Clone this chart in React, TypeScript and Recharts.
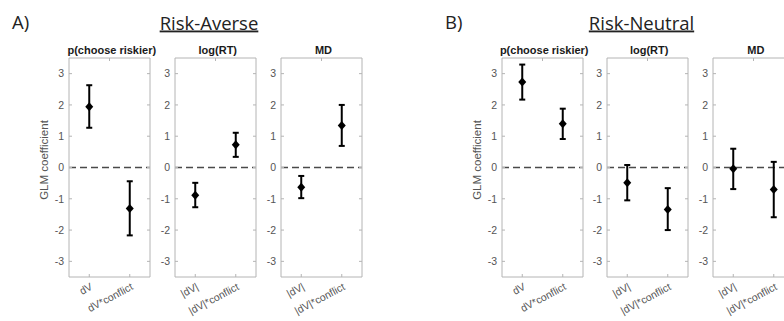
import React from 'react';
import { ComposedChart, Line, ErrorBar, XAxis, YAxis, ReferenceLine } from 'recharts';

// regressor names on the x axes
const choiceTerms = ['dV', 'dV*conflict'];
const absTerms = ['|dV|', '|dV|*conflict'];
const yTicks = [-3, -2, -1, 0, 1, 2, 3];

// A) risk-averse : coefficient, lower and upper end of the error bar
const averseChoice = [1.94, -1.31];
const averseChoiceLo = [1.27, -2.17];
const averseChoiceHi = [2.63, -0.44];
const averseRT = [-0.89, 0.73];
const averseRTLo = [-1.27, 0.34];
const averseRTHi = [-0.49, 1.11];
const averseMD = [-0.63, 1.34];
const averseMDLo = [-0.98, 0.69];
const averseMDHi = [-0.27, 2.0];

// B) risk-neutral
const neutralChoice = [2.73, 1.4];
const neutralChoiceLo = [2.17, 0.91];
const neutralChoiceHi = [3.29, 1.88];
const neutralRT = [-0.49, -1.34];
const neutralRTLo = [-1.05, -2.0];
const neutralRTHi = [0.08, -0.66];
const neutralMD = [-0.04, -0.7];
const neutralMDLo = [-0.69, -1.59];
const neutralMDHi = [0.6, 0.18];

const toRows = (terms: string[], mean: number[], lo: number[], hi: number[]) =>
  terms.map((name, i) => ({ name, coef: mean[i], err: [mean[i] - lo[i], hi[i] - mean[i]] }));

const AXIS_W = 30;
const PLOT_W = 81;
const BOX = '#b4b4b4';
const TICK_TXT = '#555555';
const FONT = '"Liberation Sans", Arial, sans-serif';

const Diamond = (p: any) => {
  const { cx, cy, index } = p;
  if (cx == null || cy == null) return <g key={index} />;
  return (
    <polygon
      key={index}
      points={`${cx},${cy - 4.5} ${cx + 4},${cy} ${cx},${cy + 4.5} ${cx - 4},${cy}`}
      fill="#000"
    />
  );
};

const SlantTick = (p: any) => {
  const { x, y, payload } = p;
  const tx = x + 4;
  const ty = y + 12;
  return (
    <text
      x={tx}
      y={ty}
      transform={`rotate(-28, ${tx}, ${ty})`}
      textAnchor="end"
      fontSize={10.5}
      fontFamily={FONT}
      fill={TICK_TXT}
    >
      {payload.value}
    </text>
  );
};

const Panel = ({ left, rows }: { left: number; rows: any[] }) => (
  <div style={{ position: 'absolute', left: left - AXIS_W, top: 57 }}>
    <ComposedChart
      width={AXIS_W + PLOT_W + 4}
      height={264}
      data={rows}
      margin={{ top: 0, right: 3, bottom: 0, left: 0 }}
    >
      <XAxis
        xAxisId="top"
        orientation="top"
        type="number"
        domain={[0, 2]}
        ticks={[0.5, 1.5]}
        allowDataOverflow
        height={1}
        tickSize={-3}
        tickFormatter={() => ''}
        axisLine={{ stroke: BOX }}
        tickLine={{ stroke: BOX }}
      />
      <XAxis
        dataKey="name"
        type="category"
        scale="band"
        height={44}
        interval={0}
        tickSize={-3}
        tickMargin={3}
        tick={<SlantTick />}
        axisLine={{ stroke: BOX }}
        tickLine={{ stroke: BOX }}
      />
      <YAxis
        domain={[-3.5, 3.5]}
        ticks={yTicks}
        width={AXIS_W}
        tickSize={-3}
        tickMargin={8}
        allowDataOverflow
        tick={{ fontSize: 10.5, fill: TICK_TXT, fontFamily: FONT }}
        axisLine={{ stroke: BOX }}
        tickLine={{ stroke: BOX }}
      />
      <YAxis
        yAxisId="right"
        orientation="right"
        domain={[-3.5, 3.5]}
        ticks={yTicks}
        width={1}
        tickSize={-3}
        allowDataOverflow
        tickFormatter={() => ''}
        axisLine={{ stroke: BOX }}
        tickLine={{ stroke: BOX }}
      />
      <ReferenceLine y={0} stroke="#4a4a4a" strokeWidth={1.4} strokeDasharray="7 4" />
      <Line
        dataKey="coef"
        stroke="none"
        dot={Diamond}
        activeDot={false}
        isAnimationActive={false}
      >
        <ErrorBar dataKey="err" direction="y" width={3} stroke="#000" strokeWidth={2} />
      </Line>
    </ComposedChart>
  </div>
);

const panels = [
  { left: 69.3, title: 'p(choose riskier)', rows: toRows(choiceTerms, averseChoice, averseChoiceLo, averseChoiceHi) },
  { left: 175.3, title: 'log(RT)', rows: toRows(absTerms, averseRT, averseRTLo, averseRTHi) },
  { left: 281, title: 'MD', rows: toRows(absTerms, averseMD, averseMDLo, averseMDHi) },
  { left: 501.7, title: 'p(choose riskier)', rows: toRows(choiceTerms, neutralChoice, neutralChoiceLo, neutralChoiceHi) },
  { left: 606.7, title: 'log(RT)', rows: toRows(absTerms, neutralRT, neutralRTLo, neutralRTHi) },
  { left: 713.3, title: 'MD', rows: toRows(absTerms, neutralMD, neutralMDLo, neutralMDHi) },
];

export default function App() {
  return (
    <div
      style={{
        position: 'absolute',
        left: 0,
        top: 0,
        width: 784,
        height: 321,
        overflow: 'hidden',
        background: '#fff',
      }}
    >
      {panels.map((p, i) => (
        <Panel key={i} left={p.left} rows={p.rows} />
      ))}
      <svg
        width={784}
        height={321}
        style={{ position: 'absolute', left: 0, top: 0, pointerEvents: 'none' }}
      >
        <g fontFamily='"Open Sans", sans-serif' fontSize={18.5} fill="#222">
          <text x={12} y={29}>A)</text>
          <text x={209} y={29.5} textAnchor="middle" style={{ textDecoration: 'underline' }}>Risk-Averse</text>
          <text x={445} y={29}>B)</text>
          <text x={641.5} y={29.5} textAnchor="middle" style={{ textDecoration: 'underline' }}>Risk-Neutral</text>
        </g>
        <g fontFamily={FONT} fontSize={11} fontWeight="bold" fill="#1a1a1a" textAnchor="middle">
          {panels.map((p, i) => (
            <text key={i} x={p.left + PLOT_W / 2 + 2} y={54}>{p.title}</text>
          ))}
        </g>
        <g fontFamily={FONT} fontSize={11.5} fill={TICK_TXT} textAnchor="middle">
          <text x={48} y={160} transform="rotate(-90, 48, 160)">GLM coefficient</text>
          <text x={481} y={160} transform="rotate(-90, 481, 160)">GLM coefficient</text>
        </g>
      </svg>
    </div>
  );
}
